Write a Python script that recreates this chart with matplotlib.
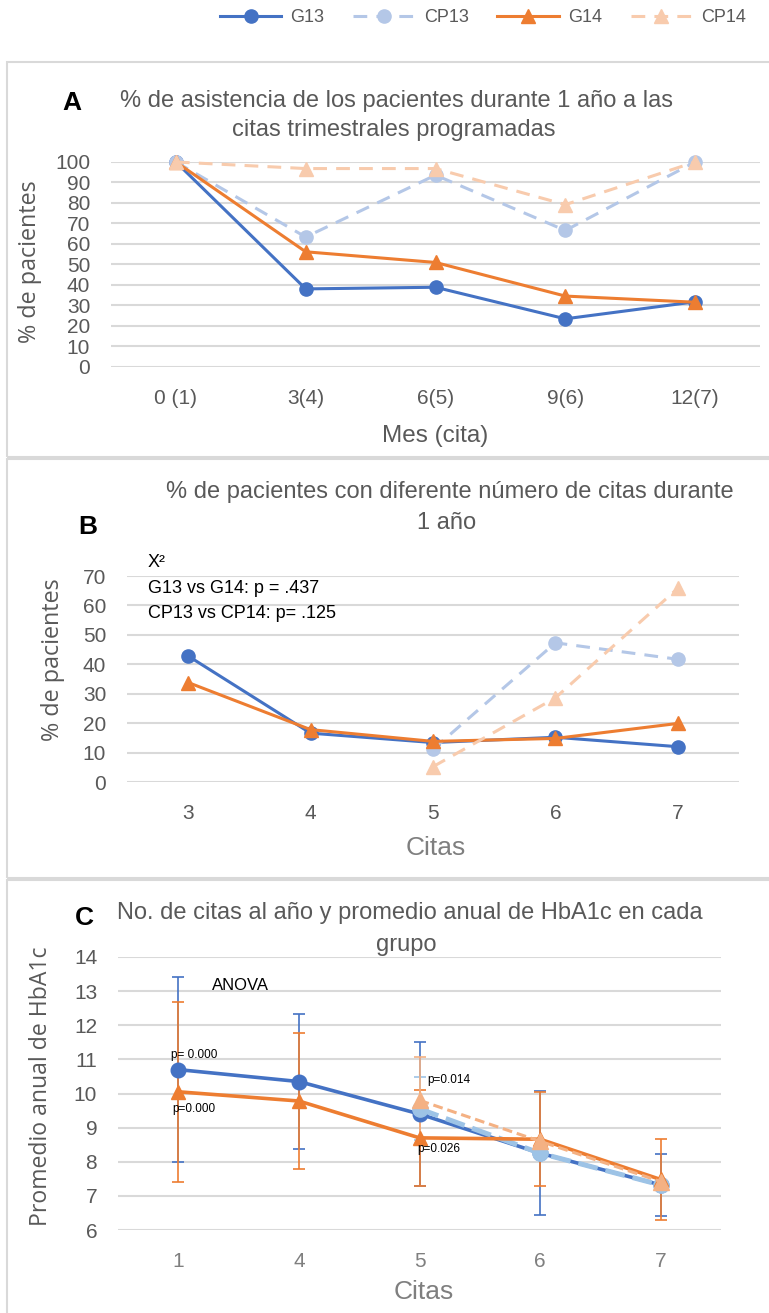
import numpy as np
import matplotlib
matplotlib.use("Agg")
import matplotlib.pyplot as plt
from matplotlib.patches import Rectangle

W, H = 769, 1313

# Colores de las series
AZUL = "#4472C4"
AZUL_CLARO = "#B4C7E7"
NARANJA = "#ED7D31"
NARANJA_CLARO = "#F8CBAD"
AZUL_CLARO_C = "#9DC3E6"
NARANJA_CLARO_C = "#F4B183"
GRIS_TXT = "#595959"
GRIS_CLARO = "#7F7F7F"
GRIS_GRID = "#D9D9D9"

series = ["G13", "CP13", "G14", "CP14"]

# A: asistencia a las citas trimestrales (%)
meses = ["0 (1)", "3(4)", "6(5)", "9(6)", "12(7)"]
asist_g13 = [100, 38.1, 38.9, 23.5, 31.8]
asist_cp13 = [100, 63.4, 93.6, 66.6, 100]
asist_g14 = [100, 56.2, 51.0, 34.6, 31.6]
asist_cp14 = [100, 96.8, 96.8, 79.2, 100]

# B: pacientes por número de citas (%)
citas_b = ["3", "4", "5", "6", "7"]
num_g13 = [42.8, 16.6, 13.4, 15.2, 12.0]
num_cp13 = [np.nan, np.nan, 11.1, 47.3, 41.7]
num_g14 = [33.8, 17.8, 13.8, 14.8, 19.9]
num_cp14 = [np.nan, np.nan, 5.2, 28.6, 65.8]

# C: HbA1c promedio anual (media y DE)
citas_c = ["1", "4", "5", "6", "7"]
hba_g13 = [10.70, 10.35, 9.40, 8.25, 7.32]
de_g13 = [2.71, 1.98, 2.11, 1.81, 0.92]
hba_cp13 = [np.nan, np.nan, 9.55, 8.25, 7.32]
de_cp13 = [np.nan, np.nan, 0.92, np.nan, np.nan]
hba_g14 = [10.05, 9.78, 8.70, 8.66, 7.48]
de_g14 = [2.64, 2.00, 1.40, 1.38, 1.20]
hba_cp14 = [np.nan, np.nan, 9.80, 8.60, 7.42]
de_cp14 = [np.nan, np.nan, 1.27, np.nan, np.nan]

FONT = ["Liberation Sans", "DejaVu Sans"]
FONT_Y = ["Open Sans", "DejaVu Sans"]
plt.rcParams["font.family"] = FONT

fig = plt.figure(figsize=(W / 100, H / 100), dpi=100)


def fx(x):
    return x / W


def fy(y):
    return 1 - y / H


def axes_px(left, top, right, bottom):
    return fig.add_axes([fx(left), fy(bottom), (right - left) / W, (bottom - top) / H])


def estilo(ax, labels, ylim, yticks, xcolor=GRIS_TXT):
    ax.set_xlim(-0.5, len(labels) - 0.5)
    ax.set_xticks(range(len(labels)))
    ax.set_xticklabels(labels)
    ax.set_ylim(*ylim)
    ax.set_yticks(yticks)
    for s in ax.spines.values():
        s.set_visible(False)
    ax.yaxis.grid(True, color=GRIS_GRID, lw=1.5)
    ax.set_axisbelow(True)
    ax.tick_params(length=0, labelsize=15, colors=GRIS_TXT)
    ax.tick_params(axis="y", pad=15)
    ax.tick_params(axis="x", pad=16, labelcolor=xcolor)
    ax.set_facecolor("none")


# marcos de cada gráfico
for top, bottom in [(62, 457), (459, 878), (880, 1320)]:
    fig.patches.append(Rectangle((fx(7), fy(bottom)), fx(780) - fx(7), (bottom - top) / H,
                                 transform=fig.transFigure, fill=False,
                                 edgecolor=GRIS_GRID, lw=1.5))

x = np.arange(5)

# ---------- A ----------
axA = axes_px(111, 162, 760, 367)
estilo(axA, meses, (0, 100), range(0, 101, 10))
hA = []
hA += axA.plot(x, asist_g13, color=AZUL, lw=2.2, marker="o", ms=9.5, label="G13")
hA += axA.plot(x, asist_cp13, color=AZUL_CLARO, lw=2.2, marker="o", ms=9.5,
               dashes=(4.5, 3), label="CP13")
hA += axA.plot(x, asist_g14, color=NARANJA, lw=2.2, marker="^", ms=9.5, label="G14")
hA += axA.plot(x, asist_cp14, color=NARANJA_CLARO, lw=2.2, marker="^", ms=9.5,
               dashes=(4.5, 3), label="CP14")
for ln in hA:
    ln.set_clip_on(False)

fig.text(fx(396), fy(101), "% de asistencia de los pacientes durante 1 año a las",
         ha="center", va="center", fontsize=17, color=GRIS_TXT)
fig.text(fx(394), fy(130), "citas trimestrales programadas",
         ha="center", va="center", fontsize=17, color=GRIS_TXT)
fig.text(fx(72), fy(103), "A", ha="center", va="center", fontsize=19,
         fontweight="bold", color="black")
fig.text(fx(435), fy(436), "Mes (cita)", ha="center", va="center", fontsize=17.5,
         color=GRIS_TXT)
fig.text(fx(30), fy(262), "% de pacientes", ha="center", va="center", rotation=90,
         fontsize=16.8, color=GRIS_TXT, family=FONT_Y)

# ---------- B ----------
axB = axes_px(127, 576, 739, 782)
estilo(axB, citas_b, (0, 70), range(0, 71, 10))
axB.plot(x, num_g13, color=AZUL, lw=2.2, marker="o", ms=9.5, clip_on=False)
axB.plot(x, num_cp13, color=AZUL_CLARO, lw=2.2, marker="o", ms=9.5,
         dashes=(4.5, 3), clip_on=False)
axB.plot(x, num_g14, color=NARANJA, lw=2.2, marker="^", ms=9.5, clip_on=False)
axB.plot(x, num_cp14, color=NARANJA_CLARO, lw=2.2, marker="^", ms=9.5,
         dashes=(4.5, 3), clip_on=False)

fig.text(fx(450), fy(492), "% de pacientes con diferente número de citas durante",
         ha="center", va="center", fontsize=17, color=GRIS_TXT)
fig.text(fx(447), fy(523), "1 año", ha="center", va="center", fontsize=17,
         color=GRIS_TXT)
fig.text(fx(88), fy(527), "B", ha="center", va="center", fontsize=19,
         fontweight="bold", color="black")
for yy, t in [(562, "X²"), (588, "G13 vs G14: p = .437"), (613, "CP13 vs CP14: p= .125")]:
    fig.text(fx(148), fy(yy), t, ha="left", va="center", fontsize=13, color="black")
fig.text(fx(436), fy(848), "Citas", ha="center", va="center", fontsize=19,
         color=GRIS_CLARO)
fig.text(fx(53), fy(660), "% de pacientes", ha="center", va="center", rotation=90,
         fontsize=16.8, color=GRIS_TXT, family=FONT_Y)

# ---------- C ----------
axC = axes_px(118, 957, 721, 1230)
estilo(axC, citas_c, (6, 14), range(6, 15), xcolor=GRIS_CLARO)
eb = dict(elinewidth=1.2, capsize=4, capthick=1.2, clip_on=False)
axC.errorbar(x, hba_g13, yerr=de_g13, color=AZUL, lw=2.6, marker="o", ms=10.5,
             ecolor=AZUL, **eb)
axC.errorbar(x, hba_cp13, yerr=de_cp13, color=AZUL_CLARO_C, lw=3.6, marker="o",
             ms=11, ecolor=AZUL_CLARO_C, dashes=(4, 1.6), **eb)
axC.errorbar(x, hba_g14, yerr=de_g14, color=NARANJA, lw=2.6, marker="^", ms=10.5,
             ecolor=NARANJA, **eb)
axC.errorbar(x, hba_cp14, yerr=de_cp14, color=NARANJA_CLARO_C, lw=2.2, marker="^",
             ms=11, ecolor=NARANJA_CLARO_C, dashes=(3.2, 1.6), **eb)

fig.text(fx(410), fy(913), "No. de citas al año y promedio anual de HbA1c en cada",
         ha="center", va="center", fontsize=17, color=GRIS_TXT)
fig.text(fx(406), fy(945), "grupo", ha="center", va="center", fontsize=17,
         color=GRIS_TXT)
fig.text(fx(84), fy(918), "C", ha="center", va="center", fontsize=19,
         fontweight="bold", color="black")
fig.text(fx(212), fy(986), "ANOVA", ha="left", va="center", fontsize=12, color="black")
for xx, yy, t in [(171, 1055, "p= 0.000"), (172, 1109, "p=0.000"),
                  (427, 1080, "p=0.014"), (417, 1149, "p=0.026")]:
    fig.text(fx(xx), fy(yy), t, ha="left", va="center", fontsize=8.5, color="black")
fig.text(fx(424), fy(1292), "Citas", ha="center", va="center", fontsize=19,
         color=GRIS_CLARO)
fig.text(fx(41), fy(1086), "Promedio anual de HbA1c", ha="center", va="center",
         rotation=90, fontsize=16.6, color=GRIS_TXT, family=FONT_Y)

fig.legend(handles=hA, loc="center", bbox_to_anchor=(fx(483), fy(18)), ncol=4,
           frameon=False, fontsize=13, labelcolor=GRIS_TXT, handlelength=3.4,
           columnspacing=1.6, handletextpad=0.5)

fig.savefig("out.png", dpi=100)
